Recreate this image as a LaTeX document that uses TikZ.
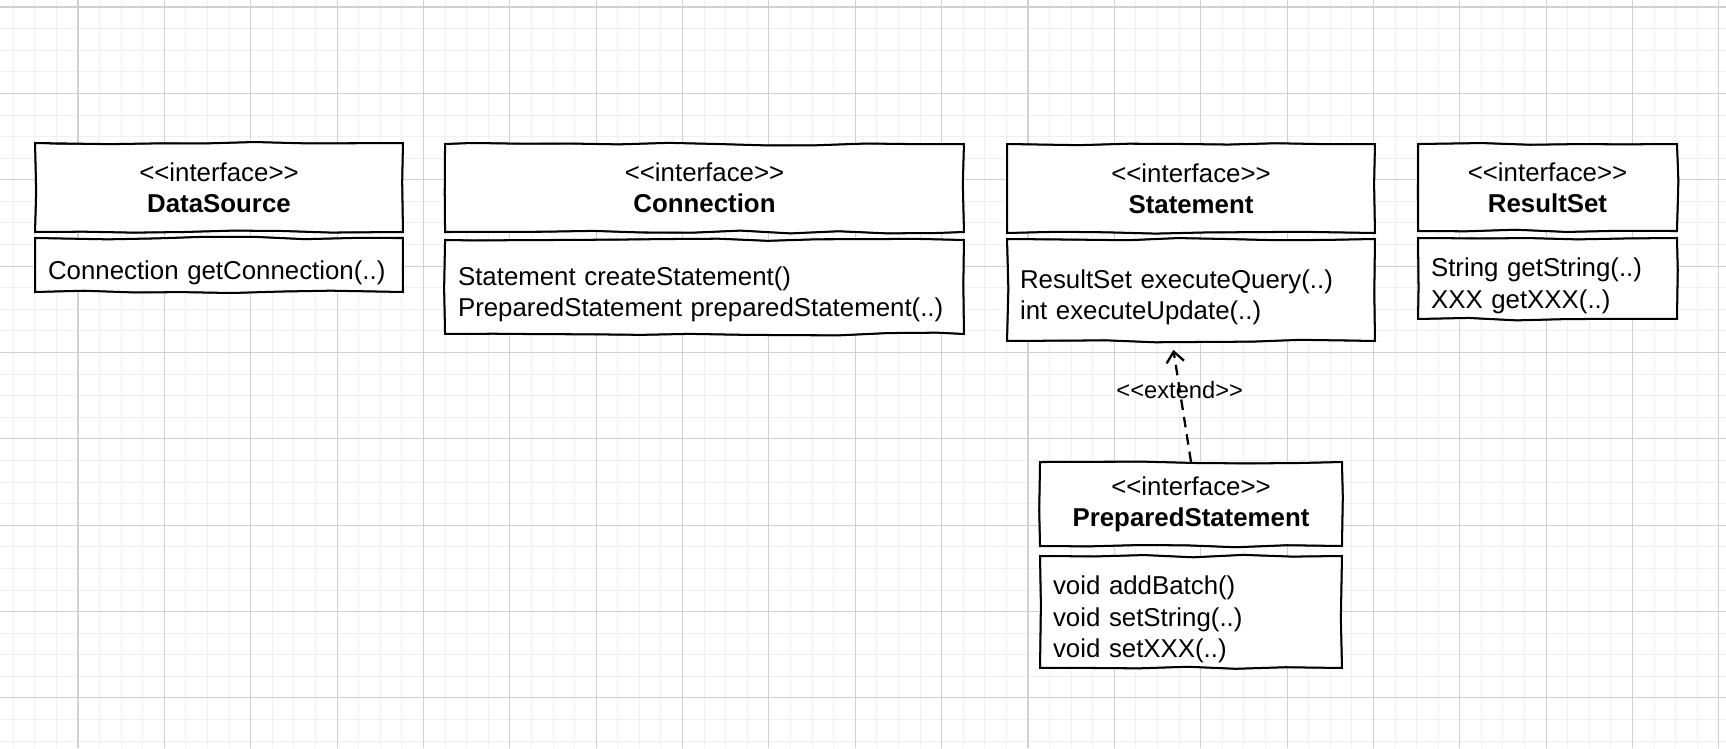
\documentclass[tikz,border=0pt]{standalone}
\usepackage{fontspec}
\newfontfamily\umlfont{Liberation Sans}
\usetikzlibrary{positioning,decorations.pathmorphing,arrows.meta}

\begin{document}
\begin{tikzpicture}[
    x=0.02cm, y=-0.02cm,
    minorline/.style={draw=black!6, line width=0.5pt},
    majorline/.style={draw=black!18, line width=0.6pt},
    sketch/.style={decorate, decoration={random steps, segment length=28pt, amplitude=0.8pt}},
    box/.style={fill=white, draw, line width=1.15pt, sketch, outer sep=0pt,
        postaction={draw, line width=0.75pt, sketch}},
    head/.style={box, align=center, inner sep=0pt, font=\umlfont\fontsize{14.7}{17.5}\selectfont},
    % push the operations a bit below the middle of their box
    ops/.style={box, align=left, inner xsep=0.26cm, inner ysep=0pt, font=\umlfont\fontsize{14.7}{18}\selectfont,
        execute at begin node={\rule{0pt}{19pt}}},
    extend/.style={-{Straight Barb[length=6pt,width=10pt]}, dash pattern=on 6pt off 4pt, line width=1.3pt, shorten >=0.18cm}
]
    \pgfmathsetseed{7}
    \useasboundingbox (0,0) rectangle (1726,748);
    \fill[white] (0,0) rectangle (1726,748);

    % Grid
    \foreach \i in {0,...,79} \draw[minorline] ({13.2+21.59*\i},0) -- ++(0,748);
    \foreach \j in {0,...,34} \draw[minorline] (0,{7+21.59*\j}) -- ++(1726,0);
    \foreach \i in {0,...,19} \draw[majorline] ({78+86.36*\i},0) -- ++(0,748);
    \foreach \j in {0,...,8} \draw[majorline] (0,{7+86.36*\j}) -- ++(1726,0);

    % Interfaces (top row)
    \node[head, minimum width=7.36cm, minimum height=1.78cm] at (219,187.5) (ds) {<<interface>>\\\textbf{DataSource}};
    \node[ops, text width=6.84cm, minimum height=1.08cm, below=0.12cm of ds] (dsops) {Connection getConnection(..)};

    \node[head, minimum width=10.38cm, minimum height=1.76cm] at (704.5,188) (conn) {<<interface>>\\\textbf{Connection}};
    \node[ops, text width=9.86cm, minimum height=1.88cm, below=0.16cm of conn] (connops) {Statement createStatement()\\PreparedStatement preparedStatement(..)};

    \node[head, minimum width=7.36cm, minimum height=1.78cm] at (1191,188.5) (st) {<<interface>>\\\textbf{Statement}};
    \node[ops, text width=6.84cm, minimum height=2.04cm, below=0.12cm of st] (stops) {ResultSet executeQuery(..)\\int executeUpdate(..)};

    \node[head, minimum width=5.18cm, minimum height=1.74cm] at (1547.5,187.5) (rs) {<<interface>>\\\textbf{ResultSet}};
    \node[ops, text width=4.66cm, minimum height=1.62cm, below=0.14cm of rs] (rsops) {String getString(..)\\XXX getXXX(..)};

    % Sub-interface
    \node[head, minimum width=6.04cm, minimum height=1.68cm] at (1191,504) (pst) {<<interface>>\\\textbf{PreparedStatement}};
    \node[ops, text width=5.52cm, minimum height=2.24cm, below=0.2cm of pst] (pstops) {void addBatch()\\void setString(..)\\void setXXX(..)};

    \draw[extend] (pst.north) -- ([xshift=-0.38cm]stops.south) node[pos=0.595, font=\umlfont\fontsize{13.5}{16}\selectfont] (extlabel) {<<extend>>};
\end{tikzpicture}
\end{document}
